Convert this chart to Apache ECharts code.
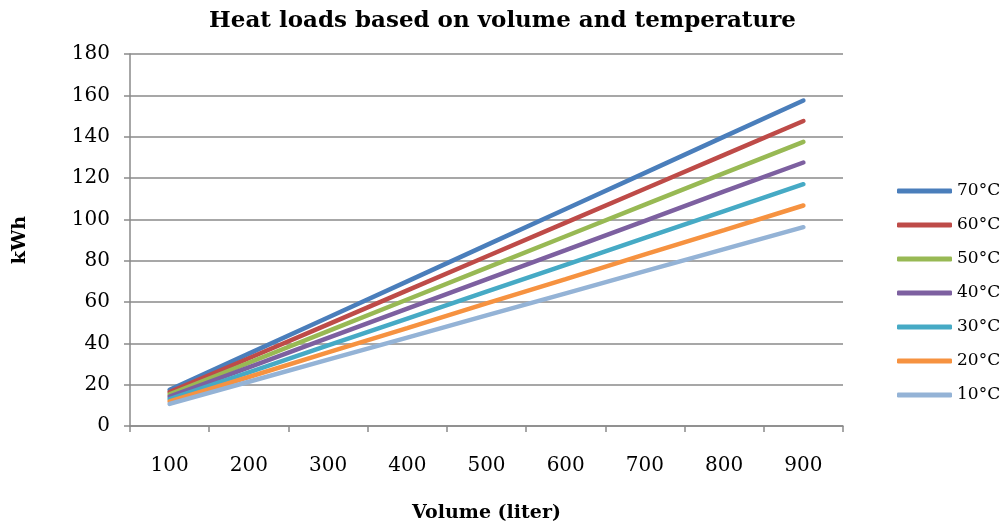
<!DOCTYPE html>
<html>
<head>
<meta charset="utf-8">
<script src="https://cdn.jsdelivr.net/npm/echarts@6/dist/echarts.min.js"></script>
<style>
    html, body { margin: 0; padding: 0; background: #fff; }
    #chart { width: 1005px; height: 528px; }
</style>
</head>
<body>
<div id="chart"></div>
<script>
// data
var volumes = ['100', '200', '300', '400', '500', '600', '700', '800', '900'];
var seriesNames = ['70°C', '60°C', '50°C', '40°C', '30°C', '20°C', '10°C'];
var t70 = [17.5, 35.0, 52.5, 70.0, 87.5, 105.0, 122.5, 140.0, 157.5];
var t60 = [16.4, 32.8, 49.2, 65.6, 82.0, 98.4, 114.8, 131.2, 147.6];
var t50 = [15.3, 30.6, 45.9, 61.2, 76.5, 91.8, 107.1, 122.4, 137.5];
var t40 = [14.2, 28.4, 42.6, 56.8, 71.0, 85.1, 99.3, 113.5, 127.5];
var t30 = [13.0, 26.0, 39.0, 52.0, 65.0, 78.0, 91.0, 104.0, 117.0];
var t20 = [11.9, 23.7, 35.6, 47.4, 59.3, 71.1, 83.0, 94.8, 106.7];
var t10 = [10.7, 21.4, 32.1, 42.8, 53.5, 64.2, 74.9, 85.6, 96.2];
var yTicks = { min: 0, max: 180, interval: 20 };

var colors = ['#4a7ebb', '#be4b48', '#98b954', '#7d60a0', '#46aac5', '#f69240', '#94b3d6'];
var font = 'DejaVu Serif';

var chart = echarts.init(document.getElementById('chart'));

function makeLine(name, data, i) {
    return {
        name: name,
        type: 'line',
        data: data,
        symbol: 'none',
        lineStyle: {
            color: colors[i],
            width: 4.5,
            cap: 'round'
        },
        itemStyle: { color: colors[i] }
    };
}

var option = {
    animation: false,
    textStyle: { fontFamily: font },
    title: {
        text: 'Heat loads based on volume and temperature',
        left: 'center',
        top: 5,
        textStyle: {
            fontFamily: font,
            fontSize: 23,
            fontWeight: 'bold',
            color: '#000'
        }
    },
    legend: {
        orient: 'vertical',
        left: 892,
        top: 176,
        itemWidth: 55,
        itemHeight: 5,
        itemGap: 14,
        icon: 'roundRect',
        data: seriesNames,
        textStyle: {
            fontFamily: font,
            fontSize: 17,
            lineHeight: 20,
            color: '#000'
        }
    },
    grid: {
        left: 130,
        right: 162,
        top: 54,
        bottom: 91
    },
    xAxis: {
        type: 'category',
        data: volumes,
        boundaryGap: true,
        name: 'Volume (liter)',
        nameLocation: 'middle',
        nameGap: 78,
        nameTextStyle: {
            fontFamily: font,
            fontSize: 19,
            fontWeight: 'bold',
            color: '#000'
        },
        axisLine: { lineStyle: { color: '#8a8a8a', width: 1.5 } },
        axisTick: { show: true, length: 6, lineStyle: { color: '#8a8a8a', width: 1.5 } },
        axisLabel: {
            margin: 30,
            fontFamily: font,
            fontSize: 20,
            color: '#000'
        }
    },
    yAxis: {
        type: 'value',
        min: yTicks.min,
        max: yTicks.max,
        interval: yTicks.interval,
        name: 'kWh',
        nameLocation: 'middle',
        nameGap: 100,
        nameTextStyle: {
            fontFamily: font,
            fontSize: 19,
            fontWeight: 'bold',
            color: '#000'
        },
        axisLine: { show: true, lineStyle: { color: '#8a8a8a', width: 1.5 } },
        axisTick: { show: true, length: 6, lineStyle: { color: '#8a8a8a', width: 1.5 } },
        splitLine: { show: true, lineStyle: { color: '#8a8a8a', width: 1.5 } },
        axisLabel: {
            margin: 20,
            fontFamily: font,
            fontSize: 20,
            color: '#000'
        }
    },
    series: [
        makeLine(seriesNames[0], t70, 0),
        makeLine(seriesNames[1], t60, 1),
        makeLine(seriesNames[2], t50, 2),
        makeLine(seriesNames[3], t40, 3),
        makeLine(seriesNames[4], t30, 4),
        makeLine(seriesNames[5], t20, 5),
        makeLine(seriesNames[6], t10, 6)
    ]
};

chart.setOption(option);
window.addEventListener('resize', function () {
    chart.resize();
});
</script>
</body>
</html>
